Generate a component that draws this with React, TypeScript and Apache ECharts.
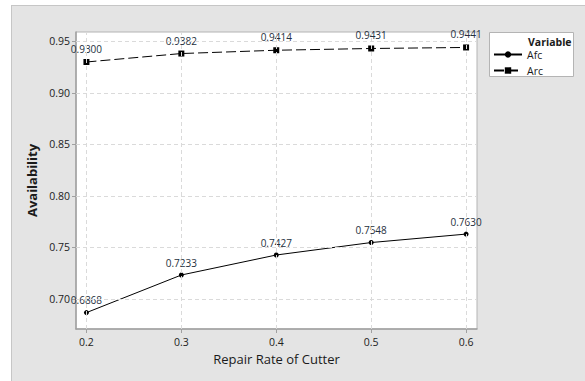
import React, { useEffect, useRef } from "react";
import * as echarts from "echarts";

const repairRates = [0.2, 0.3, 0.4, 0.5, 0.6];
const afcValues = [0.6868, 0.7233, 0.7427, 0.7548, 0.763];
const arcValues = [0.93, 0.9382, 0.9414, 0.9431, 0.9441];
const xTicks = [0.2, 0.3, 0.4, 0.5, 0.6];
const yTicks = [0.7, 0.75, 0.8, 0.85, 0.9, 0.95];

const FONT = "'Open Sans', 'Noto Sans', sans-serif";

export default function App() {
  const ref = useRef<HTMLDivElement>(null);
  useEffect(() => {
    if (!ref.current) return;
    const chart = echarts.init(ref.current, null, { renderer: "svg" });
    const gridStyle = { color: "#dadada", type: [4, 3] as any, width: 1 };
    const option: any = {
      animation: false,
      backgroundColor: "#e4e4e4",
      textStyle: { fontFamily: FONT },
      grid: {
        left: 76,
        top: 32,
        right: 108,
        bottom: 52,
        show: true,
        backgroundColor: "#ffffff",
        borderColor: "#b4b4b4",
        borderWidth: 1,
      },
      xAxis: {
        type: "value",
        min: 0.189,
        max: 0.6115,
        name: "Repair Rate of Cutter",
        nameLocation: "middle",
        nameGap: 23,
        nameTextStyle: { fontSize: 13, color: "#1a1a1a", fontFamily: FONT },
        axisLine: { show: true, lineStyle: { color: "#a0a0a0", width: 1.5 } },
        axisTick: { show: true, length: 4, customValues: xTicks, lineStyle: { color: "#a0a0a0" } },
        axisLabel: {
          customValues: xTicks,
          formatter: (v: number) => v.toFixed(1),
          fontSize: 10.5,
          color: "#222",
          margin: 7,
          fontFamily: FONT,
        },
        splitLine: { show: false },
      },
      yAxis: {
        type: "value",
        min: 0.6709,
        max: 0.9591,
        name: "Availability",
        nameLocation: "middle",
        nameGap: 38,
        nameTextStyle: { fontSize: 13, fontWeight: "bold", color: "#1a1a1a", fontFamily: FONT },
        axisLine: { show: true, lineStyle: { color: "#a0a0a0", width: 1.5 } },
        axisTick: { show: true, length: 4, customValues: yTicks, lineStyle: { color: "#a0a0a0" } },
        axisLabel: {
          customValues: yTicks,
          formatter: (v: number) => v.toFixed(2),
          fontSize: 10.5,
          color: "#222",
          margin: 6,
          fontFamily: FONT,
        },
        splitLine: { show: false },
      },
      legend: {
        orient: "vertical",
        left: 493,
        top: 49,
        padding: 0,
        itemWidth: 28,
        itemHeight: 8,
        itemGap: 5,
        textStyle: { fontSize: 10.5, color: "#1a1a1a", fontFamily: FONT },
        data: ["Afc", "Arc"],
      },
      graphic: [
        { type: "rect", shape: { x: 0, y: 0, width: 11, height: 381 }, style: { fill: "#fff" }, silent: true },
        { type: "rect", shape: { x: 0, y: 0, width: 585, height: 5 }, style: { fill: "#fff" }, silent: true },
        { type: "line", shape: { x1: 11.5, y1: 5, x2: 11.5, y2: 381 }, style: { stroke: "#c6c6c6", lineWidth: 1 }, silent: true },
        { type: "line", shape: { x1: 11, y1: 5.5, x2: 585, y2: 5.5 }, style: { stroke: "#c6c6c6", lineWidth: 1 }, silent: true },
        {
          type: "rect",
          z: 1,
          shape: { x: 489.5, y: 32.5, width: 84, height: 44 },
          style: { fill: "#fff", stroke: "#b4b4b4", lineWidth: 1 },
          silent: true,
        },
        {
          type: "text",
          z: 2,
          x: 528,
          y: 36,
          style: { text: "Variable", fontSize: 10.5, fontWeight: "bold", fill: "#1a1a1a", fontFamily: FONT },
          silent: true,
        },
      ],
      series: [
        {
          name: "grid",
          type: "line",
          data: [],
          silent: true,
          z: 1,
          markLine: {
            silent: true,
            symbol: "none",
            label: { show: false },
            lineStyle: gridStyle,
            data: [
              ...xTicks.map((v) => ({ xAxis: v })),
              ...yTicks.map((v) => ({ yAxis: v })),
            ],
          },
        },
        {
          name: "Afc",
          type: "line",
          z: 3,
          data: repairRates.map((x, i) => [x, afcValues[i]]),
          symbol: "circle",
          symbolSize: 5,
          itemStyle: { color: "#000" },
          lineStyle: { color: "#000", width: 1 },
          label: {
            show: true,
            position: "top",
            distance: 5,
            fontSize: 10,
            color: "#25303d",
            fontFamily: FONT,
            formatter: (p: any) => p.value[1].toFixed(4),
          },
        },
        {
          name: "Arc",
          type: "line",
          z: 3,
          data: repairRates.map((x, i) => [x, arcValues[i]]),
          symbol: "rect",
          symbolSize: 6,
          itemStyle: { color: "#000" },
          lineStyle: { color: "#000", width: 1, type: [10, 4] },
          label: {
            show: true,
            position: "top",
            distance: 5,
            fontSize: 10,
            color: "#25303d",
            fontFamily: FONT,
            formatter: (p: any) => p.value[1].toFixed(4),
          },
        },
      ],
    };
    chart.setOption(option);
    return () => chart.dispose();
  }, []);
  return (
    <div
      ref={ref}
      style={{ position: "fixed", left: 0, top: 0, width: 585, height: 381 }}
    />
  );
}
